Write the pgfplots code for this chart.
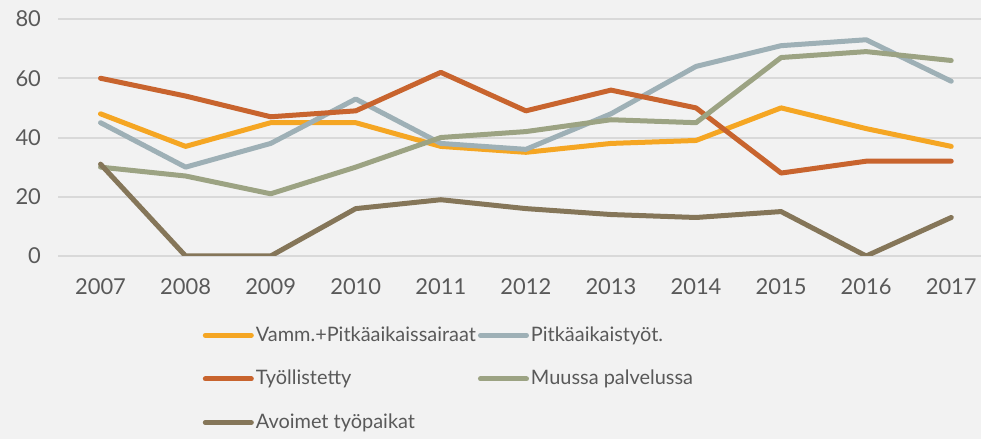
\documentclass[border=0pt]{standalone}
\usepackage{fontspec}
\setmainfont{Lato}
\usepackage{pgfplots}
\pgfplotsset{compat=1.18}
\definecolor{bg}{HTML}{F2F2F2}
\definecolor{gridc}{HTML}{D9D9D9}
\definecolor{txt}{HTML}{595959}
\definecolor{cVamm}{HTML}{F5A623}
\definecolor{cPitk}{HTML}{9EB0B6}
\definecolor{cTyo}{HTML}{C8642E}
\definecolor{cMuu}{HTML}{9CA383}
\definecolor{cAvo}{HTML}{857659}
\begin{document}
\begin{tikzpicture}
\fill[bg] (0,0) rectangle (490.5bp,219.5bp);
\useasboundingbox (0,0) rectangle (490.5bp,219.5bp);
\begin{axis}[
  at={(29bp,91.5bp)}, anchor=south west,
  scale only axis, width=461.5bp, height=118.5bp,
  xmin=2006.5, xmax=2017.35, ymin=0, ymax=80,
  axis line style={draw=none},
  major tick length=0pt,
  xtick={2007,2008,...,2017},
  ytick={0,20,40,60,80},
  ymajorgrids,
  grid style={gridc, line width=1bp},
  /pgf/number format/assume math mode=true,
  /pgf/number format/1000 sep={},
  tick label style={font=\fontsize{11}{13}\selectfont, text=txt},
  x tick label style={yshift=-8bp},
  y tick label style={xshift=-5bp},
  every axis plot/.append style={line width=2.5bp, line cap=round, line join=round},
  legend columns=2,
  legend cell align=left,
  legend image code/.code={\draw[#1, line width=2.5bp, line cap=round] (0bp,0bp) -- (23bp,0bp);},
  legend style={at={(0.150,-0.262)}, anchor=north west, draw=none, fill=none,
    font=\fontsize{10}{12}\selectfont, text=txt, row sep=9bp,
    nodes={inner xsep=1bp},
    /tikz/every even column/.append style={column sep=0pt}},
]
\addplot[cVamm] coordinates {(2007,48) (2008,37) (2009,45) (2010,45) (2011,37) (2012,35) (2013,38) (2014,39) (2015,50) (2016,43) (2017,37)};
\addlegendentry{Vamm.+Pitkäaikaissairaat}
\addplot[cPitk] coordinates {(2007,45) (2008,30) (2009,38) (2010,53) (2011,38) (2012,36) (2013,48) (2014,64) (2015,71) (2016,73) (2017,59)};
\addlegendentry{Pitkäaikaistyöt.}
\addplot[cTyo] coordinates {(2007,60) (2008,54) (2009,47) (2010,49) (2011,62) (2012,49) (2013,56) (2014,50) (2015,28) (2016,32) (2017,32)};
\addlegendentry{Työllistetty}
\addplot[cMuu] coordinates {(2007,30) (2008,27) (2009,21) (2010,30) (2011,40) (2012,42) (2013,46) (2014,45) (2015,67) (2016,69) (2017,66)};
\addlegendentry{Muussa palvelussa}
\addplot[cAvo] coordinates {(2007,31) (2008,0) (2009,0) (2010,16) (2011,19) (2012,16) (2013,14) (2014,13) (2015,15) (2016,0) (2017,13)};
\addlegendentry{Avoimet työpaikat}
\end{axis}
\end{tikzpicture}
\end{document}
